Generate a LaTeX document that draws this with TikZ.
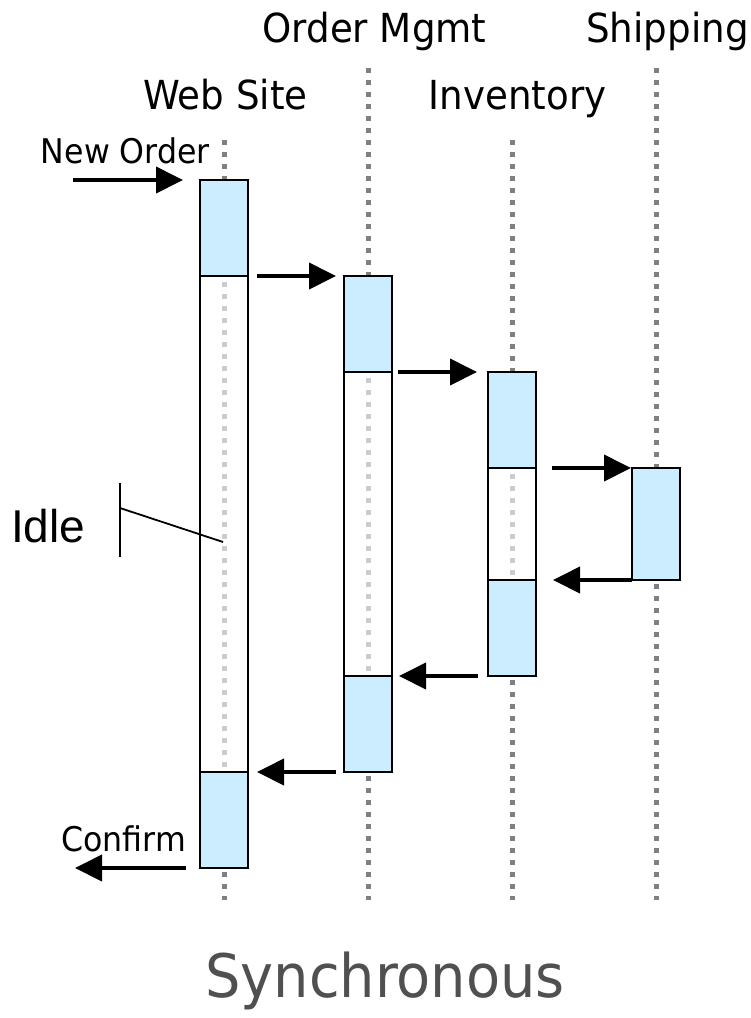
\documentclass[tikz,border=0pt]{standalone}
\usepackage{fontspec}
\setmainfont{DejaVu Sans}[FakeStretch=0.93]
\newfontfamily\idlefont{Liberation Sans}
\usetikzlibrary{arrows.meta}
\definecolor{barblue}{RGB}{204,236,255}
\definecolor{dotdark}{RGB}{128,128,128}
\definecolor{dotlight}{RGB}{204,204,204}
\definecolor{titlegray}{RGB}{80,80,80}
\tikzset{
  lifeline/.style={draw=dotdark, line width=5pt, dash pattern=on 5pt off 7pt},
  idledots/.style={draw=dotlight, line width=5pt, dash pattern=on 5pt off 7pt},
  seg/.style={draw=black, line width=2.4pt, minimum width=48pt, inner sep=0pt, outer sep=0pt, rectangle},
  busy/.style={seg, fill=barblue},
  idle/.style={seg, fill=white},
  msg/.style={line width=4pt, -{Triangle[length=27pt,width=26pt]}},
  head/.style={font=\fontsize{40}{48}\selectfont, anchor=base, inner sep=0pt},
  small/.style={font=\fontsize{34}{40}\selectfont, anchor=base east, inner sep=0pt},
}
\begin{document}
\begin{tikzpicture}[x=1pt,y=-1pt]
\useasboundingbox (0,0) rectangle (751,1018);
% headings
\node[head] (hom) at (374.5,42) {Order Mgmt};
\node[head] (hsh) at (667.5,42) {Shipping};
\node[head] (hws) at (225.5,109) {Web Site};
\node[head] (hin) at (517.5,109) {Inventory};
% lifelines
\coordinate (wtop) at (224,140); \coordinate (wbot) at (224,900);
\coordinate (otop) at (368,68);  \coordinate (obot) at (368,900);
\coordinate (itop) at (512,140); \coordinate (ibot) at (512,900);
\coordinate (stop) at (656,68);  \coordinate (sbot) at (656,900);
\draw[lifeline] (wtop) -- (wbot);
\draw[lifeline] (otop) -- (obot);
\draw[lifeline] (itop) -- (ibot);
\draw[lifeline] (stop) -- (sbot);
% activation bars
\node[busy, minimum height=96pt]  (w1) at (224,228) {};
\node[idle, minimum height=496pt] (w2) at (224,524) {};
\node[busy, minimum height=96pt]  (w3) at (224,820) {};
\node[busy, minimum height=96pt]  (o1) at (368,324) {};
\node[idle, minimum height=304pt] (o2) at (368,524) {};
\node[busy, minimum height=96pt]  (o3) at (368,724) {};
\node[busy, minimum height=96pt]  (i1) at (512,420) {};
\node[idle, minimum height=112pt] (i2) at (512,524) {};
\node[busy, minimum height=96pt]  (i3) at (512,628) {};
\node[busy, minimum height=112pt] (s1) at (656,524) {};
% faint lifeline inside idle parts
\draw[idledots] ([yshift=-6pt]w2.north) -- ([yshift=4pt]w2.south);
\draw[idledots] ([yshift=-6pt]o2.north) -- ([yshift=4pt]o2.south);
\draw[idledots] ([yshift=-6pt]i2.north) -- ([yshift=4pt]i2.south);
% messages
\coordinate (nostart) at (73,180);
\coordinate (cfend) at (75,868);
\node[small] (lno) at (210,163) {New Order};
\node[small] (lcf) at (186,851) {Confirm};
\draw[msg] (nostart) -- ([xshift=-17pt]w1.north west);
\draw[msg] ([xshift=9pt]w1.south east) -- ([xshift=-8pt]o1.north west);
\draw[msg] ([xshift=6pt]o1.south east) -- ([xshift=-11pt]i1.north west);
\draw[msg] ([xshift=16pt]i1.south east) -- ([xshift=-1pt]s1.north west);
\draw[msg] (s1.south west) -- ([xshift=17pt]i3.north east);
\draw[msg] ([xshift=-10pt]i3.south west) -- ([xshift=7pt]o3.north east);
\draw[msg] ([xshift=-8pt]o3.south west) -- ([xshift=9pt]w3.north east);
\draw[msg] ([xshift=-14pt]w3.south west) -- (cfend);
% idle annotation
\node[font=\idlefont\fontsize{46}{52}\selectfont, anchor=base west, inner sep=0pt] (lidle) at (11,542) {Idle};
\coordinate (idtop) at (120,483);
\coordinate (idbot) at (120,557);
\coordinate (idmid) at (120,508);
\coordinate (idpt) at (223,542);
\draw[line width=1.8pt] (idtop) -- (idbot);
\draw[line width=1.8pt] (idmid) -- (idpt);
% title
\node[font=\fontsize{60}{70}\selectfont, text=titlegray, anchor=base, inner sep=0pt] (title) at (385,997) {Synchronous};
\end{tikzpicture}
\end{document}
